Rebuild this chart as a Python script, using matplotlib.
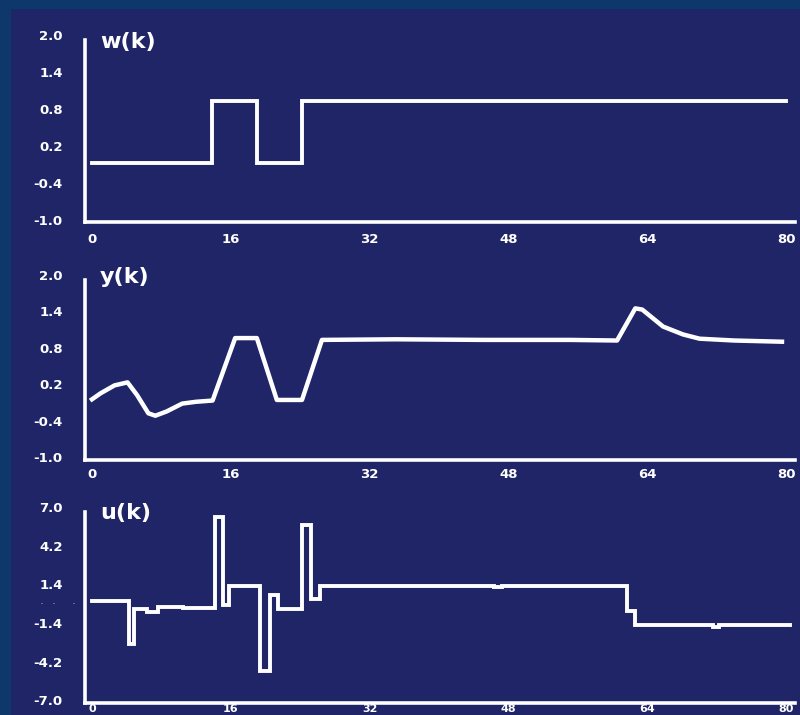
"""
Control loop response: reference w(k), output y(k), control u(k).
Scanned-slide look: white strokes on navy.
"""
import matplotlib; matplotlib.use("Agg")
import matplotlib.pyplot as plt
from matplotlib.patches import Rectangle

# Data
w_k = [0, 13.8, 19.0, 24.2, 80]
w_v = [-0.07, 0.93, -0.07, 0.93, 0.93]

y_k = [0, 1, 2.6, 4.1, 5.2, 6.5, 7.3, 8.6, 10.4, 12, 13.9, 16.5, 19.0, 21.3, 24.2,
       26.5, 35, 45, 55, 60.5, 62.6, 63.4, 65.8, 68.1, 70.0, 74, 79.5]
y_v = [-0.05, 0.05, 0.18, 0.23, 0.02, -0.28, -0.32, -0.25, -0.12, -0.09, -0.07, 0.96,
       0.96, -0.06, -0.06, 0.93, 0.94, 0.93, 0.93, 0.92, 1.45, 1.43, 1.15, 1.02,
       0.95, 0.92, 0.90]

# u(k): switching instants and held levels
u_k = [0, 4.3, 4.8, 6.3, 7.6, 10.5, 14.2, 15.1, 15.8, 19.4, 20.5, 21.4, 24.2, 25.2,
       26.3, 46.3, 47.2, 61.6, 62.6, 71.5, 72.3, 80.4]
u_v = [0.18, -2.9, -0.4, -0.6, -0.25, -0.35, 6.3, -0.1, 1.26, -4.9, 0.6, -0.4, 5.7,
       0.3, 1.28, 1.18, 1.26, -0.55, -1.55, -1.68, -1.55, -1.55]

xticks = [0, 16, 32, 48, 64, 80]
yticks_wy = [2.0, 1.4, 0.8, 0.2, -0.4, -1.0]
yticks_u = [7.0, 4.2, 1.4, -1.4, -4.2, -7.0]

BG = "#1f2566"
EDGE = "#0e386c"
W, H = 800, 715

fig = plt.figure(figsize=(8.0, 7.15), dpi=100, facecolor=BG)
# darker scan border on the left and top
fig.patches.append(Rectangle((0, 0), 10 / W, 1, transform=fig.transFigure,
                             color=EDGE, zorder=0))
fig.patches.append(Rectangle((0, 1 - 8 / H), 1, 8 / H, transform=fig.transFigure,
                             color=EDGE, zorder=0))

def px_axes(top, bottom):
    return [85 / W, 1 - bottom / H, (795 - 85) / W, (bottom - top) / H]

def style(ax, ylim, spine_top, yticks, title, title_y, xpad, xsize=9.5):
    ax.set_facecolor("none")
    ax.set_xlim(-0.8, 81.0)
    ax.set_ylim(*ylim)
    for s in ("top", "right"):
        ax.spines[s].set_visible(False)
    for s in ("left", "bottom"):
        ax.spines[s].set_color("white")
        ax.spines[s].set_linewidth(2.6)
    ax.spines["left"].set_bounds(ylim[0], spine_top)
    ax.set_xticks(xticks)
    ax.set_xticklabels([str(t) for t in xticks])
    ax.set_yticks(yticks)
    ax.set_yticklabels([f"{t:.1f}" for t in yticks])
    ax.tick_params(length=0, colors="white", labelsize=9.5)
    ax.tick_params(axis="y", pad=16)
    ax.tick_params(axis="x", pad=xpad, labelsize=xsize)
    for lab in ax.get_xticklabels() + ax.get_yticklabels():
        lab.set_fontweight("heavy")
    ax.text(0.021, title_y, title, transform=ax.transAxes, color="white",
            fontsize=16, fontweight="heavy", va="center", ha="left")

lw = 2.8

ax1 = fig.add_axes(px_axes(35, 222))
ax1.step(w_k, w_v, where="post", color="white", lw=lw, solid_joinstyle="miter")
style(ax1, (-1.03, 2.0), 1.92, yticks_wy, "w(k)", 0.963, 8)

ax2 = fig.add_axes(px_axes(275, 460))
ax2.plot(y_k, y_v, color="white", lw=lw + 0.4, solid_joinstyle="round")
style(ax2, (-1.05, 2.0), 1.92, yticks_wy, "y(k)", 0.99, 6)

ax3 = fig.add_axes(px_axes(507, 703))
ax3.step(u_k, u_v, where="post", color="white", lw=lw, solid_joinstyle="miter")
style(ax3, (-7.2, 7.0), 6.64, yticks_u, "u(k)", 0.97, 0.5, xsize=8)

# faint specks where the 0 label of u(k) used to be
fig.text(40 / W, 1 - 605 / H, "\u00b7  \u00b7    \u00b7", color="#8a93c0",
         fontsize=9, va="center", ha="left")

plt.savefig("out.png", dpi=100, facecolor=BG)
plt.close()
print("Saved: out.png")
